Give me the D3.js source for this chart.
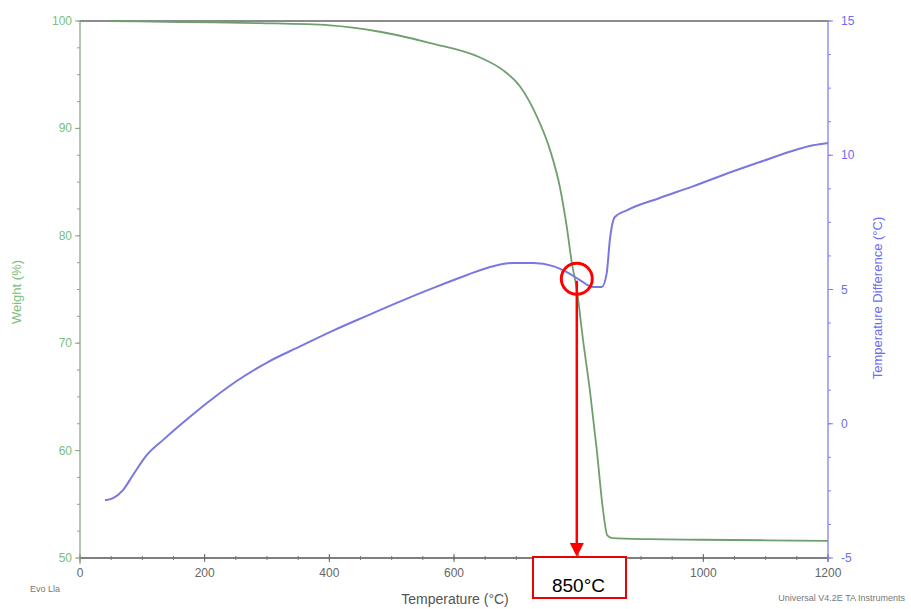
<!DOCTYPE html>
<html>
<head>
<meta charset="utf-8">
<script src="https://cdn.jsdelivr.net/npm/d3@7"></script>
<style>
  html, body { margin: 0; padding: 0; background: #fff; }
  svg { display: block; font-family: "Liberation Sans", Arial, sans-serif; }
</style>
</head>
<body>
<svg id="chart" width="911" height="609"></svg>
<script>
// TGA weight loss curve: temperature (°C) vs weight (%)
const weightTemp = [45, 160, 289, 401, 481, 562, 642, 679, 706, 733, 754, 770, 781, 789, 797, 807, 818, 829, 839, 846, 854, 914, 995, 1100, 1200];
const weightPct  = [100, 99.9, 99.8, 99.6, 99.0, 97.95, 96.6, 95.4, 93.9, 91.1, 88.0, 84.5, 80.8, 77.5, 75.0, 70.3, 65.6, 60.1, 54.5, 52.1, 51.85, 51.75, 51.7, 51.65, 51.6];

// DTA curve: temperature (°C) vs temperature difference (°C)
const dtaTemp = [40, 53, 69, 85, 107, 133, 176, 213, 252, 300, 353, 406, 460, 513, 566, 621, 658, 695, 727, 759, 781, 802, 823, 837, 845, 850, 858, 878, 930, 983, 1038, 1091, 1144, 1176, 1200];
const dtaDiff = [-2.85, -2.77, -2.47, -1.91, -1.17, -0.61, 0.25, 0.94, 1.6, 2.28, 2.88, 3.47, 4.02, 4.55, 5.05, 5.54, 5.84, 5.99, 5.99, 5.87, 5.65, 5.35, 5.09, 5.09, 5.61, 6.84, 7.70, 7.96, 8.41, 8.84, 9.32, 9.75, 10.17, 10.37, 10.46];

// Axis ticks
const xTicks = [0, 200, 400, 600, 800, 1000, 1200];
const weightTicks = [50, 60, 70, 80, 90, 100];
const diffTicks = [-5, 0, 5, 10, 15];

// Annotated point where the two curves cross
const markTemp = 797;
const markDiff = 5.4;
const markLabel = "850°C";

const svg = d3.select("#chart");
const plotL = 80, plotR = 828, plotT = 21, plotB = 558;

const x = d3.scaleLinear().domain([0, 1200]).range([plotL, plotR]);
const yW = d3.scaleLinear().domain([50, 100]).range([plotB, plotT]);
const yD = d3.scaleLinear().domain([-5, 15]).range([plotB, plotT]);

const green = "#6f9f6f";
const greenText = "#79c079";
const blue = "#7878e0";
const blueText = "#6c6cf0";
const gray = "#666";

// Annotation box geometry (it sits over the bottom axis labels)
const bx = 533, by = 557, bw = 93, bh = 41;
const underBox = v => x(v) > bx - 12 && x(v) < bx + bw + 12;

// Frame: top border
svg.append("line").attr("x1", plotL).attr("x2", plotR).attr("y1", plotT).attr("y2", plotT)
  .attr("stroke", "#8c8c8c").attr("stroke-width", 2);

// Bottom axis with minor ticks
const xMinor = d3.range(0, 1201, 50);
const gx = svg.append("g");
gx.append("line").attr("x1", plotL).attr("x2", plotR).attr("y1", plotB).attr("y2", plotB)
  .attr("stroke", "#555").attr("stroke-width", 1.3);
gx.selectAll("line.mt").data(xMinor).join("line").attr("class", "mt")
  .attr("x1", d => x(d)).attr("x2", d => x(d))
  .attr("y1", plotB - 2).attr("y2", plotB + 2)
  .attr("stroke", "#777").attr("stroke-width", 1);
gx.selectAll("line.Mt").data(xTicks).join("line").attr("class", "Mt")
  .attr("x1", d => x(d)).attr("x2", d => x(d))
  .attr("y1", plotB - 4).attr("y2", plotB + 4)
  .attr("stroke", "#666").attr("stroke-width", 1);
gx.selectAll("text").data(xTicks.filter(v => !underBox(v))).join("text")
  .attr("x", d => x(d)).attr("y", plotB + 19)
  .attr("text-anchor", "middle").attr("font-size", 12).attr("fill", gray)
  .text(d => d);

// Left axis (weight)
const wMinor = d3.range(50, 100.01, 2.5);
const gl = svg.append("g");
gl.append("line").attr("x1", plotL).attr("x2", plotL).attr("y1", plotT).attr("y2", plotB + 6)
  .attr("stroke", "#8aa88a").attr("stroke-width", 1.3);
gl.selectAll("line.mt").data(wMinor).join("line").attr("class", "mt")
  .attr("x1", plotL - 3).attr("x2", plotL)
  .attr("y1", d => yW(d)).attr("y2", d => yW(d))
  .attr("stroke", "#8aa88a").attr("stroke-width", 1);
gl.selectAll("line.Mt").data(weightTicks).join("line").attr("class", "Mt")
  .attr("x1", plotL - 5).attr("x2", plotL)
  .attr("y1", d => yW(d)).attr("y2", d => yW(d))
  .attr("stroke", "#8aa88a").attr("stroke-width", 1);
gl.selectAll("text").data(weightTicks).join("text")
  .attr("x", plotL - 8).attr("y", d => yW(d) + 4)
  .attr("text-anchor", "end").attr("font-size", 12).attr("fill", greenText)
  .text(d => d);

// Right axis (temperature difference)
const dMinor = d3.range(-5, 15.01, 1.25);
const gr = svg.append("g");
gr.append("line").attr("x1", plotR).attr("x2", plotR).attr("y1", plotT).attr("y2", plotB + 4)
  .attr("stroke", "#8080e8").attr("stroke-width", 1.3);
gr.selectAll("line.mt").data(dMinor).join("line").attr("class", "mt")
  .attr("x1", plotR).attr("x2", plotR + 3)
  .attr("y1", d => yD(d)).attr("y2", d => yD(d))
  .attr("stroke", "#8080e8").attr("stroke-width", 1);
gr.selectAll("line.Mt").data(diffTicks).join("line").attr("class", "Mt")
  .attr("x1", plotR).attr("x2", plotR + 5)
  .attr("y1", d => yD(d)).attr("y2", d => yD(d))
  .attr("stroke", "#8080e8").attr("stroke-width", 1);
gr.selectAll("text").data(diffTicks).join("text")
  .attr("x", plotR + 13).attr("y", d => yD(d) + 4)
  .attr("text-anchor", "start").attr("font-size", 12).attr("fill", blueText)
  .text(d => d);

// Axis titles
svg.append("text").attr("transform", `translate(21,292) rotate(-90)`)
  .attr("text-anchor", "middle").attr("font-size", 13).attr("fill", greenText)
  .text("Weight (%)");
svg.append("text").attr("transform", `translate(882,298) rotate(-90)`)
  .attr("text-anchor", "middle").attr("font-size", 13).attr("fill", blueText)
  .text("Temperature Difference (°C)");
svg.append("text").attr("x", 455).attr("y", 604)
  .attr("text-anchor", "middle").attr("font-size", 14).attr("fill", "#555")
  .text("Temperature (°C)");

// Footer notes
svg.append("text").attr("x", 30).attr("y", 592)
  .attr("font-size", 9).attr("fill", "#777").text("Evo Lla");
svg.append("text").attr("x", 905).attr("y", 601).attr("text-anchor", "end")
  .attr("font-size", 9).attr("fill", "#777").text("Universal V4.2E TA Instruments");

// Curves
const weightData = weightTemp.map((t, i) => [t, weightPct[i]]);
const dtaData = dtaTemp.map((t, i) => [t, dtaDiff[i]]);

svg.append("path").datum(weightData)
  .attr("fill", "none").attr("stroke", green).attr("stroke-width", 1.8)
  .attr("d", d3.line().x(d => x(d[0])).y(d => yW(d[1])).curve(d3.curveMonotoneX));

svg.append("path").datum(dtaData)
  .attr("fill", "none").attr("stroke", blue).attr("stroke-width", 2)
  .attr("d", d3.line().x(d => x(d[0])).y(d => yD(d[1])).curve(d3.curveMonotoneX));

// Annotation: circle, arrow and labelled box
const mx = x(markTemp), my = yD(markDiff);
svg.append("circle").attr("cx", mx).attr("cy", my).attr("r", 15.5)
  .attr("fill", "none").attr("stroke", "#f00").attr("stroke-width", 3);
svg.append("line").attr("x1", mx).attr("x2", mx).attr("y1", my + 2).attr("y2", 545)
  .attr("stroke", "#f00").attr("stroke-width", 2.5);
svg.append("path")
  .attr("d", `M${mx - 7},${543} L${mx + 7},${543} L${mx},${557} Z`)
  .attr("fill", "#f00");

svg.append("clipPath").attr("id", "boxclip")
  .append("rect").attr("x", bx + 1).attr("y", by + 1).attr("width", bw - 2).attr("height", bh - 4);
svg.append("rect").attr("x", bx).attr("y", by).attr("width", bw).attr("height", bh)
  .attr("fill", "#fff").attr("stroke", "#e00").attr("stroke-width", 2);
svg.append("text").attr("x", bx + bw / 2 - 1).attr("y", by + 35)
  .attr("clip-path", "url(#boxclip)")
  .attr("text-anchor", "middle").attr("font-size", 19).attr("fill", "#000")
  .text(markLabel);
</script>
</body>
</html>
